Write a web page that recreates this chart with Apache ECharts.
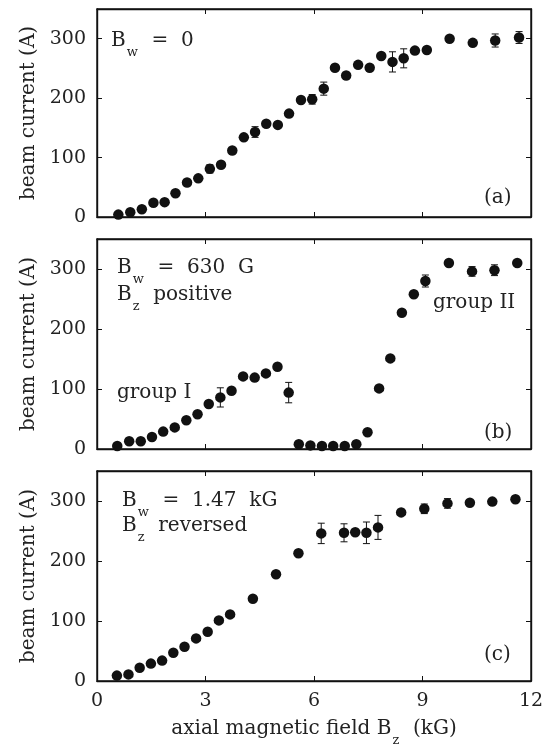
<!DOCTYPE html>
<html>
<head>
<meta charset="utf-8">
<script src="https://cdn.jsdelivr.net/npm/echarts@6/dist/echarts.min.js"></script>
<style>
  html, body { margin: 0; background: #fff; }
  #chart { width: 547px; height: 750px; }
</style>
</head>
<body>
<div id="chart"></div>
<script>
// (a) B_w = 0
const aX = [0.59, 0.92, 1.24, 1.56, 1.87, 2.17, 2.49, 2.80, 3.12, 3.43, 3.74, 4.06, 4.37, 4.68, 5.00, 5.31,
  5.64, 5.95, 6.27, 6.58, 6.89, 7.22, 7.54, 7.86, 8.17, 8.48, 8.79, 9.12, 9.75, 10.39, 11.01, 11.67];
const aY = [4, 8, 13, 24, 25, 40, 58, 65, 81, 88, 112, 134, 143, 157, 155, 174,
  197, 198, 216, 251, 238, 256, 251, 271, 261, 267, 280, 281, 300, 293, 297, 302];
const aErr = [0, 0, 0, 0, 0, 0, 0, 0, 7, 0, 0, 0, 9, 0, 0, 0,
  0, 8, 11, 0, 0, 0, 0, 0, 17, 16, 0, 0, 0, 0, 11, 10];

// (b) B_w = 630 G, B_z positive
const bX = [0.56, 0.89, 1.21, 1.52, 1.83, 2.15, 2.47, 2.78, 3.09, 3.41, 3.72, 4.04, 4.36, 4.67, 4.99, 5.30,
  5.58, 5.90, 6.22, 6.53, 6.85, 7.17, 7.48, 7.80, 8.11, 8.43, 8.76, 9.08, 9.73, 10.37, 10.99, 11.62];
const bY = [5, 13, 13, 20, 29, 36, 48, 58, 75, 86, 97, 121, 119, 126, 137, 94,
  8, 6, 5, 5, 5, 8, 28, 101, 151, 227, 258, 280, 310, 296, 298, 310];
const bErr = [0, 0, 0, 0, 0, 0, 0, 0, 0, 16, 0, 0, 0, 0, 0, 17,
  0, 0, 0, 0, 0, 0, 0, 0, 0, 0, 0, 10, 0, 8, 9, 0];

// (c) B_w = 1.47 kG, B_z reversed
const cX = [0.55, 0.87, 1.18, 1.49, 1.80, 2.11, 2.42, 2.74, 3.06, 3.37, 3.68, 4.31, 4.95,
  5.57, 6.20, 6.83, 7.14, 7.45, 7.77, 8.41, 9.05, 9.69, 10.31, 10.93, 11.57];
const cY = [9, 11, 22, 29, 34, 47, 57, 71, 82, 101, 111, 137, 178,
  213, 246, 247, 248, 247, 256, 281, 287, 296, 297, 299, 303];
const cErr = [0, 0, 0, 0, 0, 0, 0, 0, 0, 0, 0, 0, 0,
  0, 17, 15, 0, 18, 20, 5, 8, 8, 0, 0, 0];

const xTicks = { min: 0, max: 12, interval: 3 };
const yTicks = { min: 0, max: 350, interval: 100 };

const panels = [
  { x: aX, y: aY, err: aErr, top: 9, height: 208 },
  { x: bX, y: bY, err: bErr, top: 239, height: 210 },
  { x: cX, y: cY, err: cErr, top: 471, height: 210 }
];

const ink = '#111';
const font = 'DejaVu Serif';
const axisLine = { show: true, onZero: false, lineStyle: { color: ink, width: 1.4 } };
const tick = { show: true, inside: true, length: 5, lineStyle: { color: ink, width: 1 } };

const grids = [], xAxes = [], yAxes = [], series = [];

panels.forEach((p, i) => {
  grids.push({
    left: 97, right: 16, top: p.top, height: p.height,
    show: true, borderColor: ink, borderWidth: 1.4, backgroundColor: 'transparent'
  });
  const last = i === panels.length - 1;
  xAxes.push({
    gridIndex: i, type: 'value', position: 'bottom', ...xTicks,
    axisLine, axisTick: tick, splitLine: { show: false },
    axisLabel: { show: last, color: '#222', fontFamily: font, fontSize: 19, margin: 11 },
    name: last ? '{t|axial magnetic field B}{s|z}{t|  (kG)}' : '',
    nameLocation: 'middle', nameGap: 38,
    nameTextStyle: {
      rich: {
        t: { fontFamily: font, fontSize: 20, color: '#222', lineHeight: 22, verticalAlign: 'top' },
        s: { fontFamily: font, fontSize: 13, color: '#222', lineHeight: 13, padding: [15, 1, 0, 1], verticalAlign: 'top' }
      }
    }
  });
  xAxes.push({
    gridIndex: i, type: 'value', position: 'top', ...xTicks,
    axisLine, axisTick: tick, splitLine: { show: false },
    axisLabel: { show: false }
  });
  yAxes.push({
    gridIndex: i, type: 'value', position: 'left', ...yTicks,
    axisLine, axisTick: tick, splitLine: { show: false },
    axisLabel: { color: '#222', fontFamily: font, fontSize: 19, margin: 11, showMaxLabel: false },
    name: 'beam current (A)', nameLocation: 'middle', nameRotate: 90, nameGap: 56,
    nameTextStyle: { fontFamily: font, fontSize: 20, color: '#222' }
  });
  yAxes.push({
    gridIndex: i, type: 'value', position: 'right', ...yTicks,
    axisLine, axisTick: tick, splitLine: { show: false },
    axisLabel: { show: false }
  });

  // error bars sit on the mirrored top/right axes (same scales), so those axes get drawn too
  series.push({
    type: 'custom', xAxisIndex: i * 2 + 1, yAxisIndex: i * 2 + 1, silent: true, z: 2,
    data: p.x.map((x, k) => [x, p.y[k] - p.err[k], p.y[k] + p.err[k], p.err[k]]).filter(d => d[3] > 0),
    renderItem: (params, api) => {
      const top = api.coord([api.value(0), api.value(2)]);
      const bot = api.coord([api.value(0), api.value(1)]);
      const w = 3.5;
      const style = { stroke: ink, lineWidth: 1 };
      return {
        type: 'group', children: [
          { type: 'line', shape: { x1: top[0], y1: top[1], x2: bot[0], y2: bot[1] }, style },
          { type: 'line', shape: { x1: top[0] - w, y1: top[1], x2: top[0] + w, y2: top[1] }, style },
          { type: 'line', shape: { x1: bot[0] - w, y1: bot[1], x2: bot[0] + w, y2: bot[1] }, style }
        ]
      };
    }
  });
  series.push({
    type: 'scatter', xAxisIndex: i * 2, yAxisIndex: i * 2, z: 3,
    symbol: 'circle', symbolSize: 10.5,
    itemStyle: { color: ink, opacity: 1 },
    data: p.x.map((x, k) => [x, p.y[k]])
  });
});

// text annotations
const rich = {
  t: { fontFamily: font, fontSize: 20, fill: '#222', lineHeight: 22, verticalAlign: 'top' },
  s: { fontFamily: font, fontSize: 13, fill: '#222', lineHeight: 13, padding: [15, 1, 0, 1], verticalAlign: 'top' }
};
function label(text, left, top) {
  return { type: 'text', left, top, style: { text, rich, fill: '#222', font: '20px "DejaVu Serif"' } };
}

const graphic = [
  label('{t|B}{s|w}{t|  =  0}', 111, 31),
  label('{t|(a)}', 484, 188),
  label('{t|B}{s|w}{t|  =  630  G}', 117, 258),
  label('{t|B}{s|z}{t|  positive}', 117, 285),
  label('{t|group I}', 117, 383),
  label('{t|group II}', 433, 293),
  label('{t|(b)}', 484, 423),
  label('{t|B}{s|w}{t|  =  1.47  kG}', 122, 491),
  label('{t|B}{s|z}{t|  reversed}', 122, 516),
  label('{t|(c)}', 484, 645)
];

const chart = echarts.init(document.getElementById('chart'), null, { renderer: 'canvas' });
chart.setOption({
  animation: false,
  backgroundColor: '#fff',
  grid: grids,
  xAxis: xAxes,
  yAxis: yAxes,
  series,
  graphic
});
</script>
</body>
</html>
